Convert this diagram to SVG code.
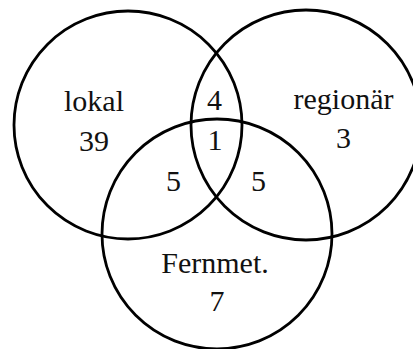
<svg xmlns="http://www.w3.org/2000/svg" width="413" height="349" viewBox="0 0 413 349">
<style>
.c{fill:none;stroke:#000;stroke-width:2.8}
.t{font-family:"Liberation Serif","Times New Roman",serif;font-size:30px;fill:#111;text-anchor:middle}
</style>
<rect width="413" height="349" fill="#fff"/>
<g id="lokal"><circle class="c" cx="128" cy="125" r="114"/></g>
<g id="regionar"><circle class="c" cx="306" cy="125" r="115"/></g>
<g id="fernmet"><circle class="c" cx="217" cy="234" r="115"/></g>
<g id="labels">
<text class="t" x="94" y="111">lokal</text>
<text class="t" x="94" y="151">39</text>
<text class="t" x="343.5" y="109">regionär</text>
<text class="t" x="343.5" y="148">3</text>
<text class="t" x="214.5" y="110">4</text>
<text class="t" x="215" y="150">1</text>
<text class="t" x="173.5" y="191">5</text>
<text class="t" x="258.5" y="191">5</text>
<text class="t" x="215" y="273">Fernmet.</text>
<text class="t" x="217" y="311">7</text>
</g>
</svg>
